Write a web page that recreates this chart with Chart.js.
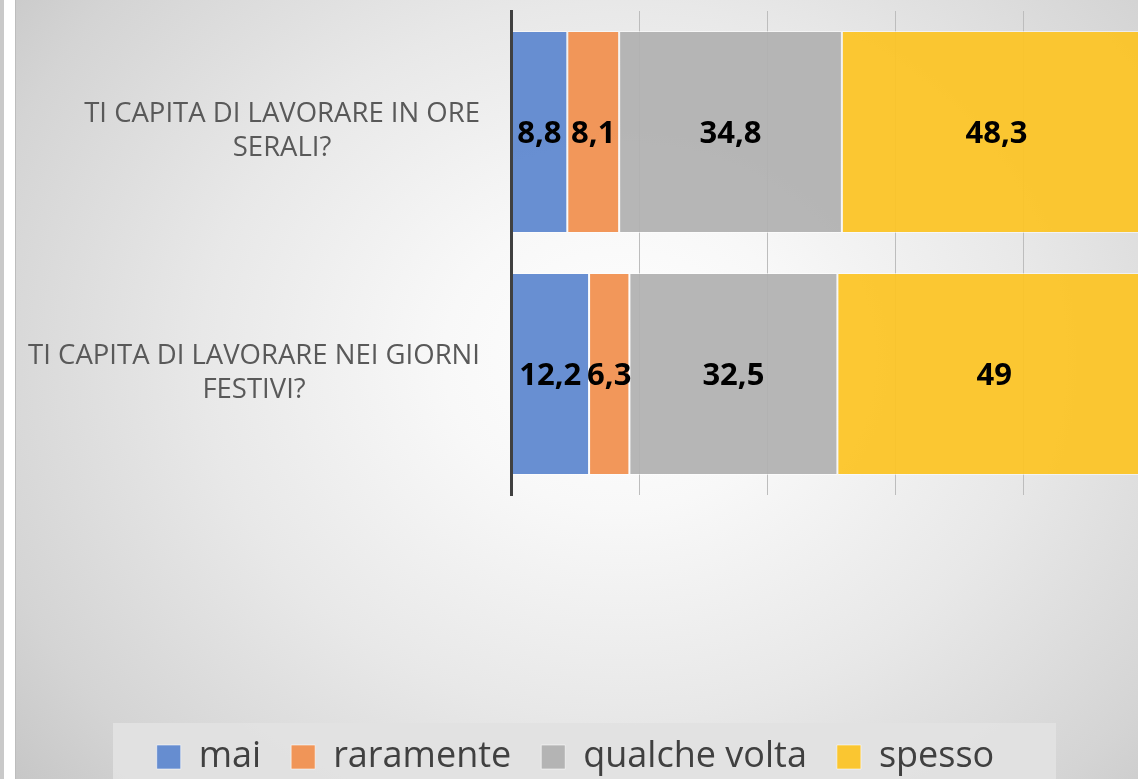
<!DOCTYPE html>
<html>
<head>
<meta charset="utf-8">
<script src="https://cdn.jsdelivr.net/npm/chart.js@4.4.1/dist/chart.umd.min.js"></script>
<style>
  html, body { margin: 0; padding: 0; width: 1138px; height: 779px; overflow: hidden; background: #ffffff; }
  #stripA { position: absolute; left: 0; top: 0; width: 4px; height: 779px; background: #c9c9c9; }
  #stripB { position: absolute; left: 4px; top: 0; width: 11px; height: 779px; background: #ffffff; }
  #stripC { position: absolute; left: 15px; top: 0; width: 1px; height: 779px; background: #bdbdbd; }
  #bg { position: absolute; left: 16px; top: 0; width: 1122px; height: 779px;
        background: radial-gradient(ellipse 72% 88% at 54% 46%, #ffffff 0%, #f8f8f8 22%, #e8e8e8 52%, #d4d4d4 82%, #c4c4c4 100%); }
  #legendBg { position: absolute; left: 113px; top: 723px; width: 943px; height: 60px; background: rgba(226,226,226,0.92); }
  #wrap { position: absolute; left: 0; top: 0; width: 1160px; height: 779px; }
</style>
</head>
<body>
<div id="stripA"></div><div id="stripB"></div><div id="stripC"></div>
<div id="bg"></div>
<div id="legendBg"></div>
<div id="wrap"><canvas id="c" width="1160" height="779"></canvas></div>
<script>
const categories = [
  ['TI CAPITA DI LAVORARE IN ORE', 'SERALI?'],
  ['TI CAPITA DI LAVORARE NEI GIORNI', 'FESTIVI?']
];
const seriesNames = ['mai', 'raramente', 'qualche volta', 'spesso'];
const mai = [8.8, 12.2];
const raramente = [8.1, 6.3];
const qualcheVolta = [34.8, 32.5];
const spesso = [48.3, 49];
const xTicks = [0, 20, 40, 60, 80, 100];

const colors = ['rgba(92,135,207,0.93)', 'rgba(241,143,78,0.93)', 'rgba(176,176,176,0.93)', 'rgba(252,196,36,0.93)'];
const seriesValues = [mai, raramente, qualcheVolta, spesso];

const labelFont = '"Open Sans", "Liberation Sans", sans-serif';

const yLabelPlugin = {
  id: 'yLabels',
  afterDraw(chart) {
    const ctx = chart.ctx;
    const ys = chart.scales.y;
    ctx.save();
    ctx.font = '27.5px ' + labelFont;
    ctx.fillStyle = '#595959';
    ctx.textAlign = 'center';
    ctx.textBaseline = 'middle';
    const lh = 34;
    categories.forEach((lines, i) => {
      const y = ys.getPixelForValue(i) - 1;
      const w = Math.max(...lines.map(l => ctx.measureText(l).width));
      const cx = chart.chartArea.left - 31 - w / 2;
      lines.forEach((l, j) => {
        ctx.fillText(l, cx, y + (j - (lines.length - 1) / 2) * lh);
      });
    });
    ctx.restore();
  }
};

const valueLabelPlugin = {
  id: 'valueLabels',
  afterDatasetsDraw(chart) {
    const ctx = chart.ctx;
    ctx.save();
    ctx.font = 'bold 31px ' + labelFont;
    ctx.fillStyle = '#000000';
    ctx.textAlign = 'center';
    ctx.textBaseline = 'middle';
    chart.data.datasets.forEach((ds, di) => {
      const meta = chart.getDatasetMeta(di);
      meta.data.forEach((el, i) => {
        const v = ds.data[i];
        const txt = String(v).replace('.', ',');
        ctx.fillText(txt, (el.x + el.base) / 2, el.y + 2);
      });
    });
    ctx.restore();
  }
};

new Chart(document.getElementById('c'), {
  type: 'bar',
  data: {
    labels: categories,
    datasets: seriesNames.map((name, i) => ({
      label: name,
      data: seriesValues[i],
      backgroundColor: colors[i],
      borderColor: 'rgba(255,255,255,0.55)',
      borderWidth: 1,
      borderSkipped: false,
      barPercentage: 0.835,
      categoryPercentage: 1
    }))
  },
  options: {
    indexAxis: 'y',
    responsive: false,
    animation: false,
    layout: { padding: { left: 0, right: 9, top: 11, bottom: 0 } },
    scales: {
      x: {
        stacked: true,
        min: 0, max: 100,
        afterBuildTicks: (s) => { s.ticks = xTicks.map(v => ({ value: v })); },
        ticks: { display: false },
        grid: { color: '#bdbdbd', lineWidth: 1, drawTicks: false },
        border: { display: false },
        afterFit: (s) => { s.height = 214; }
      },
      y: {
        stacked: true,
        ticks: { display: false },
        grid: { display: false, drawTicks: false },
        border: { display: true, color: '#404040', width: 3, z: 2 },
        afterFit: (s) => { s.width = 511; }
      }
    },
    plugins: {
      legend: {
        position: 'bottom',
        maxHeight: 70,
        labels: {
          boxWidth: 24, boxHeight: 24, padding: 30,
          color: '#404040',
          font: { family: labelFont, size: 36 }
        }
      },
      tooltip: { enabled: false }
    }
  },
  plugins: [yLabelPlugin, valueLabelPlugin]
});
</script>
</body>
</html>
